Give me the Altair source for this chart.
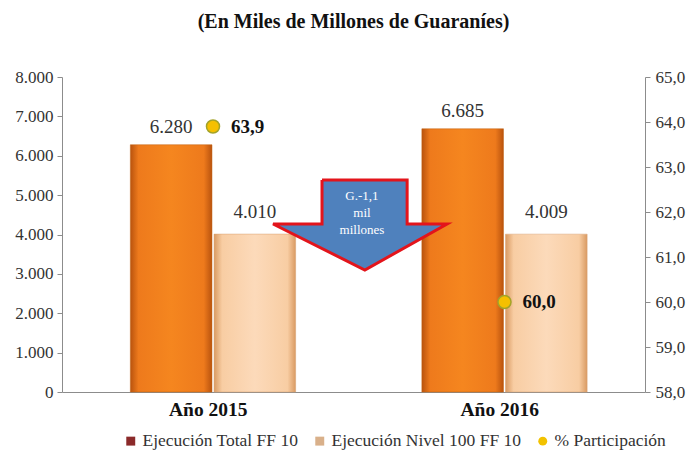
import altair as alt
import pandas as pd

# ---- data ----
years = ["Año 2015", "Año 2016"]
total_ff10 = [6280, 6685]
nivel100_ff10 = [4010, 4009]
participacion = [63.9, 60.0]
series = ["Ejecución Total FF 10", "Ejecución Nivel 100 FF 10", "% Participación"]
arrow_text = ["G.-1,1", "mil", "millones"]

FONT = "Liberation Serif"

def fmt_int(v):
    return f"{v:,.0f}".replace(",", ".")

def fmt_dec(v):
    return f"{v:.1f}".replace(".", ",")

# layout helpers (category centre in a 0..2 domain)
BW = 0.28
GAP = 0.007
SHIFT = 0.018
rows = []
for i, y in enumerate(years):
    c = i + 0.5 + SHIFT
    rows.append(dict(year=y, x0=c - BW - GAP / 2, x1=c - GAP / 2, xc=c - BW / 2 - GAP / 2,
                     total=total_ff10[i], nivel=nivel100_ff10[i],
                     pc=participacion[i], xp=c,
                     lt=fmt_int(total_ff10[i]), ln=fmt_int(nivel100_ff10[i]),
                     lp=fmt_dec(participacion[i]),
                     n0=c + GAP / 2, n1=c + GAP / 2 + BW, nc=c + GAP / 2 + BW / 2))
df = pd.DataFrame(rows)

xscale = alt.Scale(domain=[0, 2], nice=False, zero=False)
yL = alt.Scale(domain=[0, 8000], nice=False)
yR = alt.Scale(domain=[58, 65], nice=False, zero=False)

xaxis = alt.Axis(values=[0.5, 1.5], labelExpr="datum.value < 1 ? 'Año 2015' : 'Año 2016'",
                 ticks=False, grid=False, title=None, domainColor="#8c8c8c",
                 labelFont=FONT, labelFontSize=19.5, labelFontWeight="bold",
                 labelColor="#111", labelPadding=8)
yaxisL = alt.Axis(values=list(range(0, 8001, 1000)), grid=False, title=None,
                  labelExpr="replace(format(datum.value, ',.0f'), ',', '.')",
                  labelFont=FONT, labelFontSize=17, labelColor="#333", labelOverlap=False,
                  domainColor="#8c8c8c", tickColor="#8c8c8c", tickSize=5, labelPadding=4)
yaxisR = alt.Axis(values=[58, 59, 60, 61, 62, 63, 64, 65], grid=False, title=None,
                  orient="right", labelOverlap=False,
                  labelExpr="replace(format(datum.value, '.1f'), '.', ',')",
                  labelFont=FONT, labelFontSize=17, labelColor="#333",
                  domainColor="#8c8c8c", tickColor="#8c8c8c", tickSize=5, labelPadding=5)

orange = alt.Gradient(gradient="linear", x1=0, x2=1, y1=0, y2=0, stops=[
    alt.GradientStop(color="#B9530E", offset=0),
    alt.GradientStop(color="#EE7A1C", offset=0.1),
    alt.GradientStop(color="#F5861F", offset=0.5),
    alt.GradientStop(color="#EE7A1C", offset=0.9),
    alt.GradientStop(color="#B9530E", offset=1)])
peach = alt.Gradient(gradient="linear", x1=0, x2=1, y1=0, y2=0, stops=[
    alt.GradientStop(color="#D99A62", offset=0),
    alt.GradientStop(color="#F8CDA3", offset=0.1),
    alt.GradientStop(color="#FCDABA", offset=0.5),
    alt.GradientStop(color="#F8CDA3", offset=0.9),
    alt.GradientStop(color="#D99A62", offset=1)])

base = alt.Chart(df)

bar_total = base.mark_bar(color=orange, stroke="#C0600F", strokeWidth=0.5).encode(
    x=alt.X("x0:Q", scale=xscale, axis=xaxis), x2="x1:Q",
    y=alt.Y("total:Q", scale=yL, axis=yaxisL), y2=alt.datum(0))
bar_nivel = base.mark_bar(color=peach, stroke="#D9A070", strokeWidth=0.5).encode(
    x=alt.X("n0:Q", scale=xscale, axis=xaxis), x2="n1:Q",
    y=alt.Y("nivel:Q", scale=yL, axis=yaxisL), y2=alt.datum(0))

lab_total = base.mark_text(font=FONT, fontSize=19, color="#333", baseline="bottom", dy=-8).encode(
    x=alt.X("xc:Q", scale=xscale, axis=xaxis), y=alt.Y("total:Q", scale=yL, axis=yaxisL),
    text="lt:N")
lab_nivel = base.mark_text(font=FONT, fontSize=19, color="#333", baseline="bottom", dy=-12).encode(
    x=alt.X("nc:Q", scale=xscale, axis=xaxis), y=alt.Y("nivel:Q", scale=yL, axis=yaxisL),
    text="ln:N")

# arrow annotation (data coordinates)
arrow_x = [0.892, 1.184, 1.184, 1.321, 1.039, 0.724, 0.892, 0.892]
arrow_y = [5384, 5384, 4267, 4267, 3098, 4267, 4267, 5384]
arrow_df = pd.DataFrame({"ax": arrow_x, "ay": arrow_y, "i": list(range(len(arrow_x)))})
arrow = alt.Chart(arrow_df).mark_line(fill="#4F81BD", stroke="#E3141B", strokeWidth=3,
                                      strokeJoin="miter").encode(
    x=alt.X("ax:Q", scale=xscale, axis=xaxis), y=alt.Y("ay:Q", scale=yL, axis=yaxisL),
    order="i:Q")
atext_df = pd.DataFrame({"t": arrow_text, "tx": [1.029] * 3, "ty": [4978, 4546, 4114]})
atext = alt.Chart(atext_df).mark_text(font=FONT, fontSize=13, color="white").encode(
    x=alt.X("tx:Q", scale=xscale, axis=xaxis), y=alt.Y("ty:Q", scale=yL, axis=yaxisL),
    text="t:N")

pts = base.mark_point(filled=True, fill="#F5C000", stroke="#A3A329", strokeWidth=1.5,
                      size=170, opacity=1, shape="circle").encode(
    x=alt.X("xp:Q", scale=xscale, axis=xaxis), y=alt.Y("pc:Q", scale=yR, axis=yaxisR))
pt_lab = base.mark_text(font=FONT, fontSize=19, fontWeight="bold", color="#111",
                        align="left", dx=18).encode(
    x=alt.X("xp:Q", scale=xscale, axis=xaxis), y=alt.Y("pc:Q", scale=yR, axis=yaxisR),
    text="lp:N")

# legend-only layer: points placed outside the plot and clipped away
leg_df = pd.DataFrame({"s": series})
legend = alt.Chart(leg_df).mark_point(filled=True, opacity=1, clip=True).encode(
    x=alt.X("lx:Q", scale=xscale, axis=xaxis), y=alt.Y("ly:Q", scale=yL, axis=yaxisL),
    color=alt.Color("s:N", scale=alt.Scale(domain=series,
                    range=["#8B2A2A", "#D9B08A", "#F2C200"]),
                    legend=alt.Legend(title=None, orient="none", legendX=60, legendY=355,
                                      direction="horizontal",
                                      symbolSize=80, labelFont=FONT, labelFontSize=17.5,
                                      labelColor="#333", columnPadding=12, labelLimit=400,
                                      symbolStrokeWidth=0, labelOffset=3)),
    shape=alt.Shape("s:N", scale=alt.Scale(domain=series,
                    range=["square", "square", "circle"]), legend=None),
).transform_calculate(lx="-5", ly="-5000")

left = alt.layer(bar_total, bar_nivel, lab_total, lab_nivel, arrow, atext, legend)
right = alt.layer(pts, pt_lab)

chart = alt.layer(left, right).resolve_scale(y="independent").properties(
    width=583, height=315,
    autosize=alt.AutoSizeParams(type="none"),
    padding={"left": 54, "top": 69, "right": 44, "bottom": 61},
    title=alt.Title("(En Miles de Millones de Guaraníes)", font=FONT, fontSize=20,
                    fontWeight="bold", color="#111", anchor="middle", offset=36),
).configure_view(stroke=None).configure_axis(labelOverlap=False).configure_legend(
    labelFont=FONT)

chart.save("out.html", embed_options={"renderer": "svg", "actions": False})
